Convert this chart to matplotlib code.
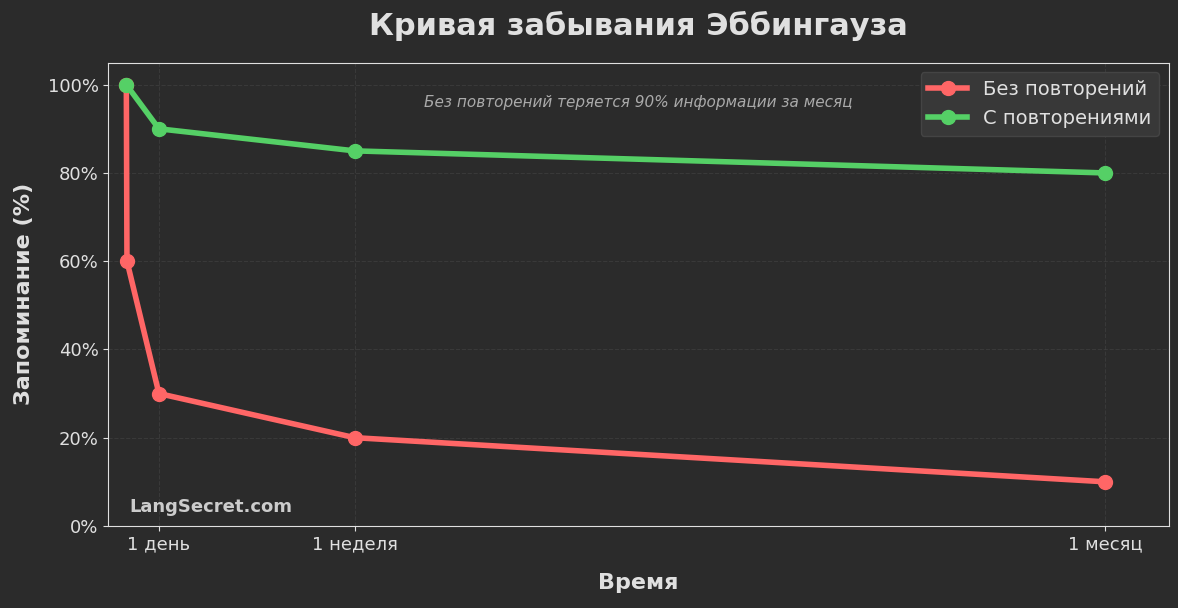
import matplotlib
matplotlib.use("Agg")
import matplotlib.pyplot as plt

days_no = [0, 0.02, 1, 7, 30]
ret_no = [100, 60, 30, 20, 10]
days_rep = [0, 1, 7, 30]
ret_rep = [100, 90, 85, 80]
tick_pos = [1, 7, 30]
tick_labels = ["1 день", "1 неделя", "1 месяц"]

bg = "#2b2b2b"
fg = "#e0e0e0"
fig, ax = plt.subplots(figsize=(11.78, 6.08), dpi=100)
fig.patch.set_facecolor(bg)
ax.set_facecolor(bg)
ax.plot(days_no, ret_no, color="#ff6666", lw=4, marker="o", ms=10, label="Без повторений")
ax.plot(days_rep, ret_rep, color="#55d066", lw=4, marker="o", ms=10, label="С повторениями")
ax.set_xlim(-0.55, 31.95)
ax.set_ylim(0, 105)
ax.set_xticks(tick_pos)
ax.set_xticklabels(tick_labels)
ax.set_yticks(range(0, 101, 20))
ax.set_yticklabels([f"{v}%" for v in range(0, 101, 20)])
ax.tick_params(colors=fg, labelsize=13)
for s in ax.spines.values():
    s.set_color(fg)
ax.grid(True, color="#444444", linestyle="--", linewidth=0.8, alpha=0.6)
ax.set_title("Кривая забывания Эббингауза", color=fg, fontsize=22, fontweight="bold", pad=20)
ax.set_xlabel("Время", color=fg, fontsize=16, fontweight="bold", labelpad=14)
ax.set_ylabel("Запоминание (%)", color=fg, fontsize=16, fontweight="bold", labelpad=10)
ax.text(0.5, 0.905, "Без повторений теряется 90% информации за месяц", transform=ax.transAxes,
        ha="center", color="#aaaaaa", fontsize=11, style="italic")
ax.text(0.02, 0.03, "LangSecret.com", transform=ax.transAxes, color="#cccccc",
        fontsize=13, fontweight="bold")
leg = ax.legend(loc="upper right", fontsize=14, facecolor="#383838", edgecolor="#444444", framealpha=1)
for t in leg.get_texts():
    t.set_color(fg)
fig.subplots_adjust(left=0.092, right=0.992, top=0.897, bottom=0.135)
fig.savefig("out.png", facecolor=bg)
